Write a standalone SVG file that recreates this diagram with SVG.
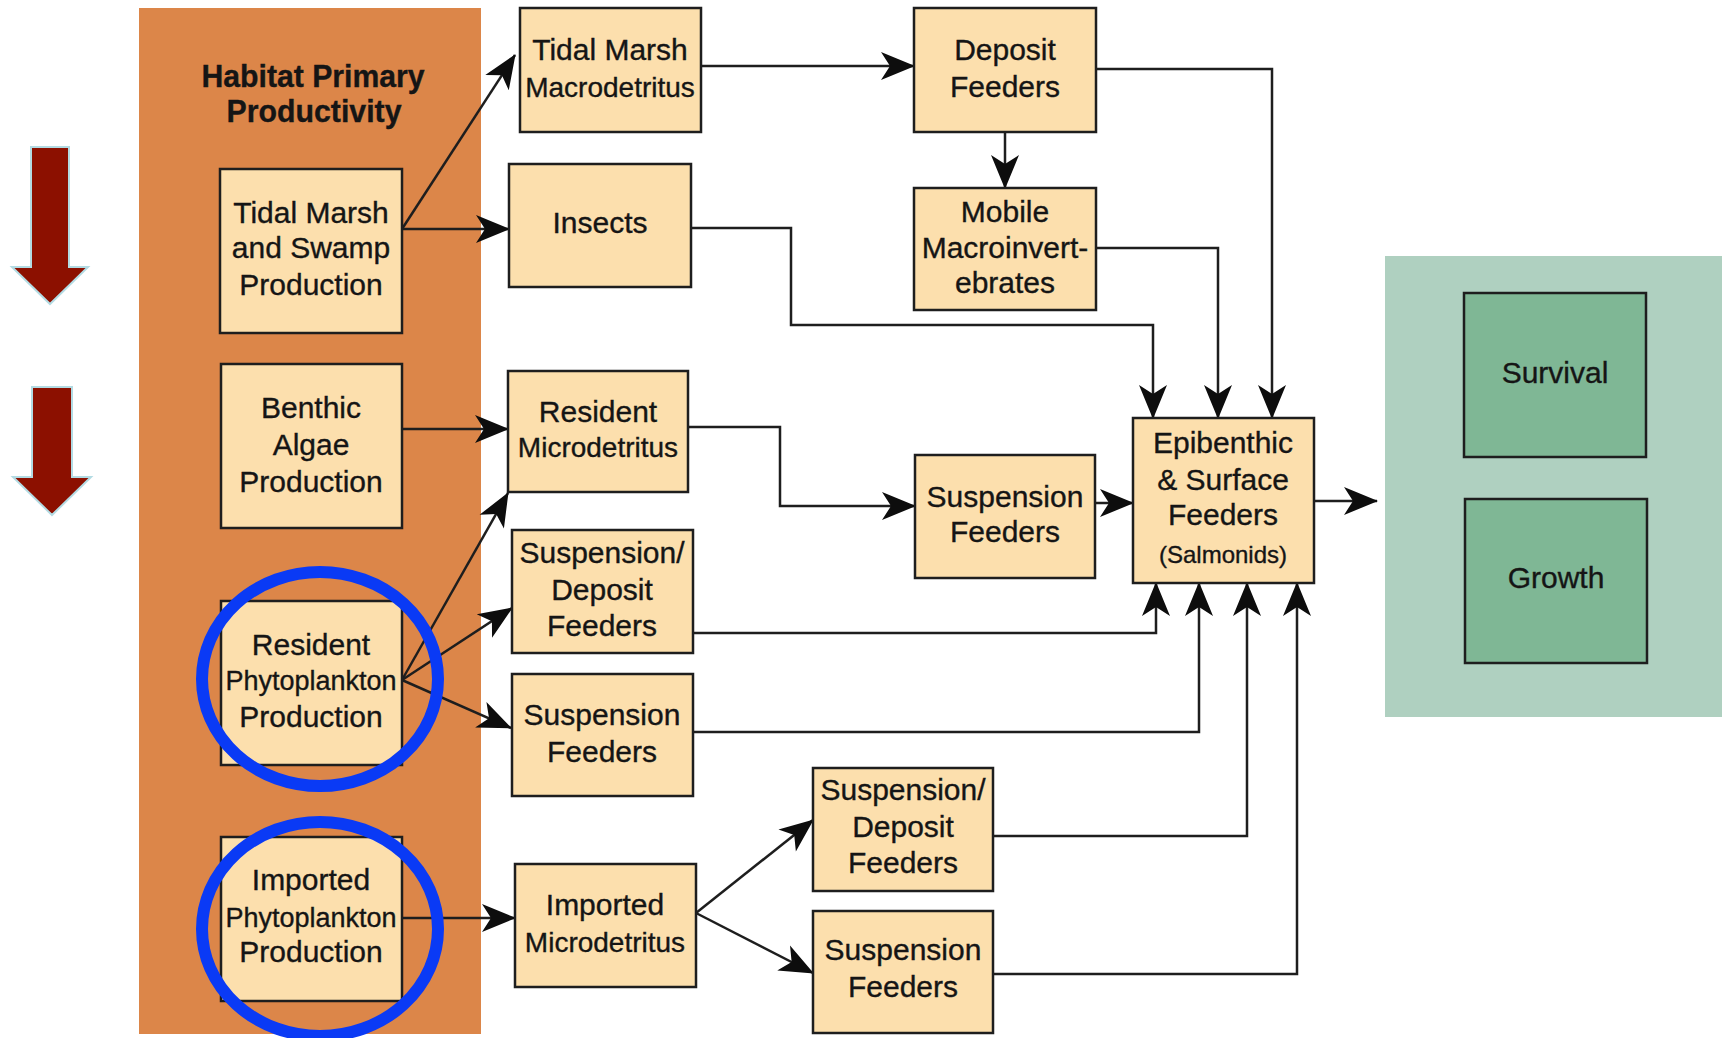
<svg xmlns="http://www.w3.org/2000/svg" width="1725" height="1038" viewBox="0 0 1725 1038">
<defs>
<style>
.box{fill:#fcdfad;stroke:#1e1e1e;stroke-width:2.5}
.gbox{fill:#7fb795;stroke:#1e1e1e;stroke-width:2.5}
.t{font-family:"Liberation Sans",Arial,Helvetica,sans-serif;font-size:30px;fill:#151515;stroke:#151515;stroke-width:0.35;text-anchor:middle}
.s{font-size:28px}
.p{font-size:27px}
.sm{font-size:24px}
.title{font-weight:bold;font-size:31px}
.c{fill:none;stroke:#1e1e1e;stroke-width:2.5;marker-end:url(#ah)}
.ring{fill:none;stroke:#0a3af5;stroke-width:12}
.red{fill:#8c1000;stroke:#b3dbe3;stroke-width:2}
</style>
<marker id="ah" markerUnits="userSpaceOnUse" viewBox="-36 -16 38 32" refX="0" refY="0" markerWidth="38" markerHeight="32" orient="auto"><path d="M1,0 L-33,-14 L-24,0 L-33,14 Z" fill="#0d0d0d"/></marker>
</defs>
<rect x="0" y="0" width="1725" height="1038" fill="#ffffff"/>
<rect id="panel-habitat" x="139" y="8" width="342" height="1026" fill="#dc8649"/>
<rect id="panel-outcome" x="1385" y="256" width="337" height="461" fill="#afd0c0"/>
<g id="red-arrows">
<polygon class="red" points="31,147 69,147 69,267 88,267 50,304 12,267 31,267"/>
<polygon class="red" points="32,387 72,387 72,477 91,477 52,515 13,477 32,477"/>
</g>
<g id="title">
<text class="t title" x="313" y="87" textLength="223" lengthAdjust="spacingAndGlyphs">Habitat Primary</text>
<text class="t title" x="314" y="122" textLength="175" lengthAdjust="spacingAndGlyphs">Productivity</text>
</g>
<g id="connectors">
<path class="c" d="M402,229 L515,55"/>
<path class="c" d="M402,229 H509"/>
<path class="c" d="M701,66 H914"/>
<path class="c" d="M1005,132 V188"/>
<path class="c" d="M1096,69 H1272 V418"/>
<path class="c" d="M1096,248 H1218 V418"/>
<path class="c" d="M691,228 H791 V325 H1153 V418"/>
<path class="c" d="M402,429 H508"/>
<path class="c" d="M402,680 L508,493"/>
<path class="c" d="M402,680 L512,608"/>
<path class="c" d="M402,680 L511,728"/>
<path class="c" d="M688,427 H780 V506 H915"/>
<path class="c" d="M1095,503 H1133"/>
<path class="c" d="M1314,501 H1377"/>
<path class="c" d="M693,633 H1156 V583"/>
<path class="c" d="M693,732 H1199 V583"/>
<path class="c" d="M993,836 H1247 V583"/>
<path class="c" d="M993,974 H1297 V583"/>
<path class="c" d="M402,918 H515"/>
<path class="c" d="M696,913 L813,820"/>
<path class="c" d="M696,913 L813,973"/>
</g>
<g id="tidal-marsh-swamp">
<rect class="box" x="220" y="169" width="182" height="164"/>
<text class="t" x="311" y="223">Tidal Marsh</text>
<text class="t" x="311" y="258">and Swamp</text>
<text class="t" x="311" y="295">Production</text>
</g>
<g id="benthic-algae">
<rect class="box" x="221" y="364" width="181" height="164"/>
<text class="t" x="311" y="418">Benthic</text>
<text class="t" x="311" y="455">Algae</text>
<text class="t" x="311" y="492">Production</text>
</g>
<g id="resident-phyto">
<rect class="box" x="221" y="601" width="181" height="164"/>
<text class="t" x="311" y="655">Resident</text>
<text class="t p" x="311" y="690">Phytoplankton</text>
<text class="t" x="311" y="727">Production</text>
</g>
<g id="imported-phyto">
<rect class="box" x="221" y="837" width="181" height="164"/>
<text class="t" x="311" y="890">Imported</text>
<text class="t p" x="311" y="927">Phytoplankton</text>
<text class="t" x="311" y="962">Production</text>
</g>
<g id="tidal-marsh-macro">
<rect class="box" x="520" y="8" width="181" height="124"/>
<text class="t" x="610" y="60">Tidal Marsh</text>
<text class="t s" x="610" y="97">Macrodetritus</text>
</g>
<g id="insects">
<rect class="box" x="509" y="164" width="182" height="123"/>
<text class="t" x="600" y="233">Insects</text>
</g>
<g id="deposit-feeders">
<rect class="box" x="914" y="8" width="182" height="124"/>
<text class="t" x="1005" y="60">Deposit</text>
<text class="t" x="1005" y="97">Feeders</text>
</g>
<g id="mobile-macro">
<rect class="box" x="914" y="188" width="182" height="122"/>
<text class="t" x="1005" y="222">Mobile</text>
<text class="t" x="1005" y="258">Macroinvert-</text>
<text class="t" x="1005" y="293">ebrates</text>
</g>
<g id="resident-micro">
<rect class="box" x="508" y="371" width="180" height="121"/>
<text class="t" x="598" y="422">Resident</text>
<text class="t s" x="598" y="457">Microdetritus</text>
</g>
<g id="suspension-mid">
<rect class="box" x="915" y="455" width="180" height="123"/>
<text class="t" x="1005" y="507">Suspension</text>
<text class="t" x="1005" y="542">Feeders</text>
</g>
<g id="susp-deposit-upper">
<rect class="box" x="512" y="530" width="181" height="123"/>
<text class="t" x="602" y="563">Suspension/</text>
<text class="t" x="602" y="600">Deposit</text>
<text class="t" x="602" y="636">Feeders</text>
</g>
<g id="suspension-upper">
<rect class="box" x="512" y="674" width="181" height="122"/>
<text class="t" x="602" y="725">Suspension</text>
<text class="t" x="602" y="762">Feeders</text>
</g>
<g id="imported-micro">
<rect class="box" x="515" y="864" width="181" height="123"/>
<text class="t" x="605" y="915">Imported</text>
<text class="t s" x="605" y="952">Microdetritus</text>
</g>
<g id="susp-deposit-lower">
<rect class="box" x="813" y="768" width="180" height="123"/>
<text class="t" x="903" y="800">Suspension/</text>
<text class="t" x="903" y="837">Deposit</text>
<text class="t" x="903" y="873">Feeders</text>
</g>
<g id="suspension-lower">
<rect class="box" x="813" y="911" width="180" height="122"/>
<text class="t" x="903" y="960">Suspension</text>
<text class="t" x="903" y="997">Feeders</text>
</g>
<g id="epibenthic">
<rect class="box" x="1133" y="418" width="181" height="165"/>
<text class="t" x="1223" y="453">Epibenthic</text>
<text class="t" x="1223" y="490">&amp; Surface</text>
<text class="t" x="1223" y="525">Feeders</text>
<text class="t sm" x="1223" y="563">(Salmonids)</text>
</g>
<g id="survival">
<rect class="gbox" x="1464" y="293" width="182" height="164"/>
<text class="t" x="1555" y="383">Survival</text>
</g>
<g id="growth">
<rect class="gbox" x="1465" y="499" width="182" height="164"/>
<text class="t" x="1556" y="588">Growth</text>
</g>
<g id="highlights">
<ellipse class="ring" cx="320" cy="679" rx="118" ry="107"/>
<ellipse class="ring" cx="320" cy="929" rx="118" ry="107"/>
</g>
</svg>
